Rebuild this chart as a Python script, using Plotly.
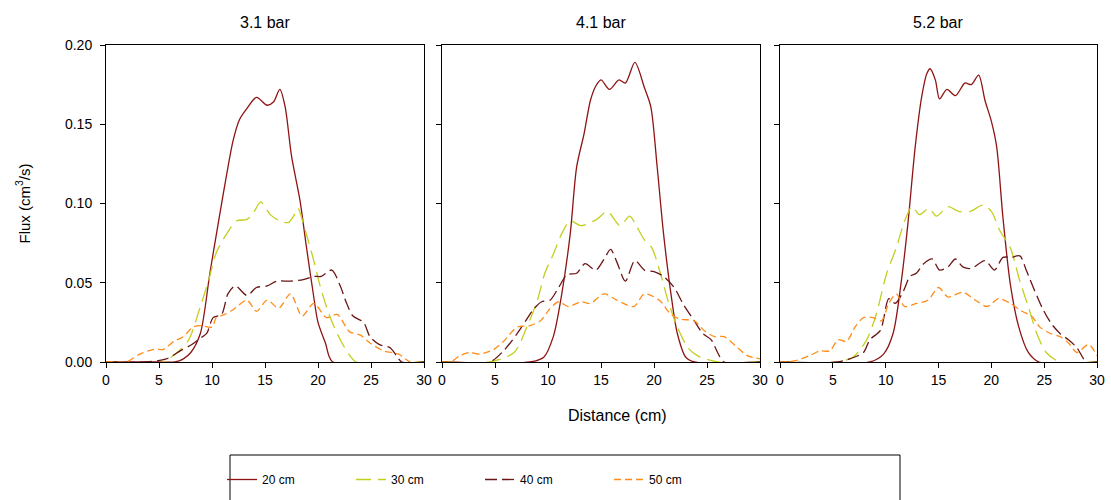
import plotly.graph_objects as go

# ---------------- data (distance in cm, flux in cm^3/s) ----------------
panel_titles = ["3.1 bar", "4.1 bar", "5.2 bar"]
series_names = ["20 cm", "30 cm", "40 cm", "50 cm"]

# 3.1 bar
p1_20_x = [0, 5, 6.5, 7.3, 8, 8.9, 9.8, 10.6, 11.4, 12.0, 12.6, 13.3, 14.2, 15.2, 15.8, 16.4, 16.9, 17.5, 18.3, 18.9, 19.6, 20.0, 20.7, 21.4, 30]
p1_20_y = [0, 0, 0, 0.002, 0.006, 0.018, 0.056, 0.088, 0.119, 0.140, 0.153, 0.160, 0.167, 0.162, 0.164, 0.172, 0.161, 0.130, 0.102, 0.073, 0.041, 0.025, 0.012, 0, 0]
p1_30_x = [0, 5.3, 6.7, 7.8, 8.9, 9.7, 10.4, 11.4, 12.3, 13.3, 13.9, 14.6, 15.5, 16.4, 17.2, 17.7, 18.1, 18.8, 19.6, 20.2, 21.1, 22.1, 23.0, 23.6, 30]
p1_30_y = [0, 0, 0.006, 0.014, 0.035, 0.052, 0.069, 0.081, 0.089, 0.090, 0.094, 0.101, 0.093, 0.089, 0.088, 0.092, 0.097, 0.083, 0.064, 0.048, 0.029, 0.014, 0.004, 0, 0]
p1_40_x = [0, 3.8, 5.7, 7.0, 8.1, 8.9, 9.5, 10.1, 10.9, 11.5, 12.2, 13.3, 14.2, 15.2, 16.1, 17.4, 18.6, 19.6, 20.3, 21.3, 22.1, 22.7, 23.3, 24.3, 24.9, 25.8, 26.8, 27.4, 27.9, 30]
p1_40_y = [0, 0, 0.002, 0.007, 0.011, 0.015, 0.018, 0.028, 0.030, 0.043, 0.048, 0.042, 0.047, 0.048, 0.051, 0.051, 0.052, 0.054, 0.054, 0.058, 0.048, 0.037, 0.029, 0.025, 0.016, 0.011, 0.009, 0.004, 0, 0]
p1_50_x = [0, 0.7, 1.9, 3.2, 4.5, 5.4, 6.4, 7.3, 8.2, 8.9, 10.0, 10.4, 11.2, 12.0, 13.3, 14.2, 15.2, 16.3, 17.4, 18.5, 19.6, 20.8, 21.8, 23.0, 24.0, 24.9, 26.2, 27.6, 28.7, 30]
p1_50_y = [0, 0, 0, 0.005, 0.008, 0.008, 0.013, 0.016, 0.022, 0.023, 0.022, 0.028, 0.030, 0.033, 0.039, 0.032, 0.039, 0.034, 0.043, 0.029, 0.037, 0.028, 0.030, 0.019, 0.017, 0.012, 0.007, 0.005, 0, 0]

# 4.1 bar
p2_20_x = [0, 8.3, 9.6, 10.5, 11.3, 12.1, 12.7, 13.4, 14.0, 14.5, 15.0, 15.8, 16.7, 17.3, 18.2, 19.1, 19.7, 20.3, 20.9, 21.6, 22.2, 23.0, 23.8, 30]
p2_20_y = [0, 0, 0.003, 0.016, 0.043, 0.081, 0.123, 0.144, 0.165, 0.174, 0.178, 0.172, 0.178, 0.176, 0.189, 0.173, 0.161, 0.123, 0.081, 0.043, 0.018, 0.003, 0, 0]
p2_30_x = [0, 4.5, 6.8, 8.0, 9.0, 9.7, 10.5, 11.3, 12.1, 13.1, 14.6, 15.6, 16.8, 17.7, 18.4, 19.1, 19.8, 20.6, 21.4, 22.2, 23.2, 24.1, 26.0, 30]
p2_30_y = [0, 0, 0.006, 0.022, 0.039, 0.056, 0.068, 0.081, 0.089, 0.086, 0.090, 0.095, 0.086, 0.092, 0.085, 0.077, 0.072, 0.056, 0.037, 0.022, 0.009, 0.004, 0, 0]
p2_40_x = [0, 4.5, 5.8, 7.1, 8.0, 8.6, 9.4, 10.2, 11.0, 11.8, 12.7, 13.5, 14.5, 15.3, 15.9, 16.5, 17.3, 18.2, 19.1, 20.0, 20.9, 21.9, 22.8, 23.8, 24.6, 25.4, 26.0, 26.6, 30]
p2_40_y = [0, 0, 0.007, 0.018, 0.027, 0.033, 0.038, 0.039, 0.047, 0.055, 0.056, 0.062, 0.058, 0.065, 0.071, 0.063, 0.051, 0.064, 0.058, 0.057, 0.054, 0.047, 0.036, 0.026, 0.018, 0.014, 0.006, 0, 0]
p2_50_x = [0, 0.8, 1.7, 2.6, 3.6, 4.9, 5.8, 7.1, 8.3, 9.3, 10.1, 11.0, 11.9, 13.1, 14.0, 15.3, 16.5, 18.1, 19.1, 20.5, 21.6, 22.5, 23.8, 24.7, 25.7, 26.6, 27.9, 28.8, 30]
p2_50_y = [0, 0, 0.004, 0.006, 0.005, 0.008, 0.013, 0.022, 0.023, 0.026, 0.033, 0.038, 0.035, 0.038, 0.037, 0.043, 0.039, 0.035, 0.043, 0.039, 0.030, 0.027, 0.026, 0.020, 0.016, 0.016, 0.009, 0.004, 0.002]

# 5.2 bar
p3_20_x = [0, 8.5, 9.8, 10.7, 11.5, 12.1, 12.8, 13.4, 13.9, 14.2, 14.7, 15.1, 15.8, 16.6, 17.5, 18.1, 18.8, 19.4, 20.0, 20.5, 21.1, 21.8, 22.6, 23.5, 24.5, 30]
p3_20_y = [0, 0, 0.005, 0.018, 0.052, 0.087, 0.136, 0.167, 0.182, 0.185, 0.178, 0.166, 0.172, 0.168, 0.176, 0.175, 0.181, 0.165, 0.152, 0.136, 0.091, 0.049, 0.022, 0.006, 0, 0]
p3_30_x = [0, 5.4, 6.9, 8.2, 9.1, 10.1, 11.0, 11.8, 12.5, 13.2, 14.1, 14.8, 15.9, 16.9, 18.0, 19.2, 20.0, 20.8, 21.8, 22.7, 23.5, 24.3, 25.2, 26.5, 30]
p3_30_y = [0, 0, 0.003, 0.014, 0.030, 0.056, 0.072, 0.089, 0.098, 0.093, 0.097, 0.092, 0.098, 0.095, 0.095, 0.099, 0.095, 0.083, 0.072, 0.051, 0.035, 0.018, 0.006, 0, 0]
p3_40_x = [0, 5.4, 6.6, 7.9, 8.5, 9.5, 10.3, 10.9, 11.7, 12.3, 12.9, 13.6, 14.4, 15.1, 15.9, 16.6, 17.3, 18.1, 19.4, 20.3, 21.1, 21.9, 22.7, 23.3, 24.1, 24.9, 25.7, 26.5, 27.3, 28.1, 29.0, 30]
p3_40_y = [0, 0, 0.002, 0.006, 0.014, 0.020, 0.040, 0.037, 0.045, 0.054, 0.056, 0.062, 0.065, 0.058, 0.060, 0.065, 0.060, 0.059, 0.064, 0.058, 0.066, 0.066, 0.067, 0.058, 0.045, 0.033, 0.024, 0.018, 0.014, 0.009, 0, 0]
p3_50_x = [0, 0.6, 1.6, 2.8, 3.8, 4.7, 5.5, 6.3, 7.1, 7.9, 8.8, 9.6, 10.3, 11.0, 11.8, 12.9, 14.0, 15.0, 15.9, 17.3, 18.5, 19.6, 20.7, 21.8, 22.9, 23.8, 24.6, 25.6, 26.5, 27.3, 28.1, 29.2, 30]
p3_50_y = [0, 0, 0.001, 0.004, 0.007, 0.007, 0.014, 0.013, 0.022, 0.028, 0.028, 0.026, 0.037, 0.043, 0.035, 0.037, 0.039, 0.047, 0.041, 0.044, 0.039, 0.035, 0.040, 0.037, 0.032, 0.029, 0.022, 0.018, 0.016, 0.012, 0.006, 0.011, 0.004]

x_ticks = [0, 5, 10, 15, 20, 25, 30]
y_ticks = [0.00, 0.05, 0.10, 0.15, 0.20]

panels = [
    [(p1_20_x, p1_20_y), (p1_30_x, p1_30_y), (p1_40_x, p1_40_y), (p1_50_x, p1_50_y)],
    [(p2_20_x, p2_20_y), (p2_30_x, p2_30_y), (p2_40_x, p2_40_y), (p2_50_x, p2_50_y)],
    [(p3_20_x, p3_20_y), (p3_30_x, p3_30_y), (p3_40_x, p3_40_y), (p3_50_x, p3_50_y)],
]

# ---------------- styles ----------------
colors = ["#8e1414", "#c3cf1e", "#6a1616", "#ff8c1a"]
dashes = ["solid", "15px,7px", "12px,5px", "7px,4px"]
FONT = "Arial, Liberation Sans, sans-serif"

W, H = 1111, 500
L, R, T, B = 106, 14, 45, 138
pw = W - L - R
ph = H - T - B
domains = [
    [0.0, (424 - L) / pw],
    [(442 - L) / pw, (760 - L) / pw],
    [(780 - L) / pw, 1.0],
]

fig = go.Figure()
for pi, panel in enumerate(panels):
    xa = "x" if pi == 0 else f"x{pi + 1}"
    ya = "y" if pi == 0 else f"y{pi + 1}"
    for si, (xs, ys) in enumerate(panel):
        fig.add_trace(go.Scatter(
            x=xs, y=ys, mode="lines", name=series_names[si],
            line=dict(color=colors[si], width=1.3, dash=dashes[si], shape="spline", smoothing=0.8),
            showlegend=(pi == 0), legendgroup=series_names[si],
            xaxis=xa, yaxis=ya, hoverinfo="skip",
        ))

axis_common = dict(showline=True, linecolor="black", linewidth=1, mirror=True,
                   ticks="outside", ticklen=5, tickcolor="black", tickwidth=1,
                   showgrid=False, zeroline=False,
                   tickfont=dict(family=FONT, size=14, color="black"))

layout = dict(
    width=W, height=H,
    margin=dict(l=L, r=R, t=T, b=B, autoexpand=False),
    paper_bgcolor="white", plot_bgcolor="white",
    font=dict(family=FONT, color="black"),
    showlegend=True,
    legend=dict(orientation="h", x=(222 - L) / pw, xanchor="left",
                y=-(465 - (H - B)) / ph, yanchor="top",
                font=dict(family=FONT, size=12, color="black"),
                entrywidth=84, entrywidthmode="pixels",
                bgcolor="rgba(0,0,0,0)", borderwidth=0, itemwidth=30),
)
for pi in range(3):
    sx = "" if pi == 0 else str(pi + 1)
    layout[f"xaxis{sx}"] = dict(axis_common, domain=domains[pi], range=[0, 30],
                                tickvals=x_ticks, anchor=f"y{sx}")
    layout[f"yaxis{sx}"] = dict(axis_common, domain=[0, 1], range=[0, 0.2],
                                tickvals=y_ticks, tickformat=".2f",
                                ticklabelstandoff=5,
                                showticklabels=(pi == 0), anchor=f"x{sx}")
fig.update_layout(**layout)

ann = []
for pi, t in enumerate(panel_titles):
    ann.append(dict(text=t, x=sum(domains[pi]) / 2, y=1, xref="paper", yref="paper",
                    xanchor="center", yanchor="bottom", yshift=12, showarrow=False,
                    font=dict(family=FONT, size=16, color="black")))
ann.append(dict(text="Distance (cm)", x=(617 - L) / pw, y=0, xref="paper", yref="paper",
                xanchor="center", yanchor="middle", yshift=-53, showarrow=False,
                font=dict(family=FONT, size=16, color="black")))
ann.append(dict(text="Flux (cm<sup>3</sup>/s)", x=(23 - L) / pw, y=0.5, xref="paper", yref="paper",
                xanchor="center", yanchor="middle", textangle=-90, showarrow=False,
                font=dict(family=FONT, size=15, color="black")))
fig.update_layout(annotations=ann)

# legend frame
fig.add_shape(type="rect", xref="paper", yref="paper",
              x0=(230 - L) / pw, x1=(900 - L) / pw,
              y0=-(455 - (H - B)) / ph, y1=-(520 - (H - B)) / ph,
              line=dict(color="black", width=1), fillcolor="rgba(0,0,0,0)")

fig.write_html("out.html", config={"displayModeBar": False},
               post_script="document.body.style.margin='0';")
